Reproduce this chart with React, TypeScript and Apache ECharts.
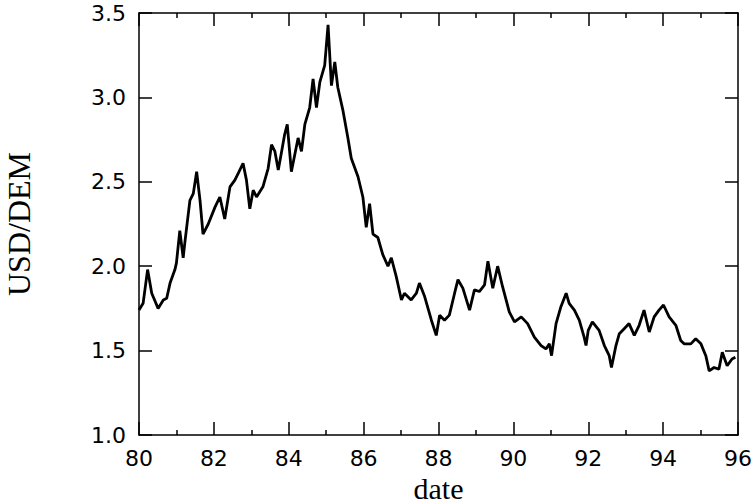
import React, { useEffect, useRef } from "react";
import * as echarts from "echarts";

const years: number[] = [
  80.0, 80.11, 80.23, 80.34, 80.51, 80.65, 80.74, 80.83, 80.96, 81.0,
  81.09, 81.18, 81.23, 81.36, 81.45, 81.54, 81.63, 81.71, 81.85, 82.03,
  82.16, 82.29, 82.43, 82.56, 82.65, 82.78, 82.87, 82.96, 83.05, 83.14,
  83.31, 83.45, 83.54, 83.63, 83.72, 83.81, 83.89, 83.96, 84.07, 84.25,
  84.34, 84.43, 84.56, 84.65, 84.74, 84.83, 84.96, 85.05, 85.14, 85.23,
  85.31, 85.45, 85.58, 85.67, 85.85, 85.98, 86.07, 86.16, 86.25, 86.38,
  86.51, 86.65, 86.74, 86.87, 87.01, 87.09, 87.27, 87.41, 87.49, 87.63,
  87.81, 87.94, 88.03, 88.16, 88.29, 88.43, 88.52, 88.65, 88.83, 88.96,
  89.09, 89.23, 89.32, 89.45, 89.58, 89.71, 89.89, 90.03, 90.21, 90.38,
  90.56, 90.74, 90.87, 90.96, 91.02, 91.14, 91.27, 91.41, 91.49, 91.63,
  91.76, 91.89, 91.94, 92.0, 92.11, 92.29, 92.43, 92.56, 92.62, 92.74,
  92.83, 92.96, 93.09, 93.23, 93.36, 93.49, 93.63, 93.76, 93.89, 94.01,
  94.16, 94.34, 94.47, 94.56, 94.74, 94.87, 95.01, 95.14, 95.23, 95.36,
  95.49, 95.58, 95.71, 95.84, 95.93,
];

const usdDem: number[] = [
  1.74, 1.78, 1.98, 1.84, 1.75, 1.8, 1.81, 1.9, 1.98, 2.02,
  2.21, 2.05, 2.15, 2.39, 2.43, 2.56, 2.39, 2.19, 2.25, 2.35,
  2.41, 2.28, 2.47, 2.51, 2.55, 2.61, 2.51, 2.34, 2.45, 2.41,
  2.47, 2.58, 2.72, 2.68, 2.57, 2.68, 2.78, 2.84, 2.56, 2.76,
  2.68, 2.84, 2.94, 3.11, 2.94, 3.09, 3.19, 3.43, 3.07, 3.21,
  3.06, 2.92, 2.76, 2.64, 2.53, 2.41, 2.23, 2.37, 2.19, 2.17,
  2.07, 2.0, 2.05, 1.94, 1.8, 1.84, 1.8, 1.84, 1.9, 1.82,
  1.68, 1.59, 1.71, 1.68, 1.71, 1.84, 1.92, 1.87, 1.74, 1.86,
  1.85, 1.89, 2.03, 1.87, 2.0, 1.88, 1.73, 1.67, 1.7, 1.66,
  1.58, 1.53, 1.51, 1.54, 1.47, 1.66, 1.76, 1.84, 1.78, 1.74,
  1.68, 1.58, 1.53, 1.62, 1.67, 1.62, 1.53, 1.47, 1.4, 1.53,
  1.6, 1.63, 1.66, 1.59, 1.65, 1.74, 1.61, 1.7, 1.74, 1.77,
  1.7, 1.65, 1.56, 1.54, 1.54, 1.57, 1.54, 1.47, 1.38, 1.4,
  1.39, 1.49, 1.41, 1.45, 1.46,
];

const xTicks: number[] = [80, 82, 84, 86, 88, 90, 92, 94, 96];
const yTicks: number[] = [1.0, 1.5, 2.0, 2.5, 3.0, 3.5];

const tickFont = "'DejaVu Sans', sans-serif";
const titleFont = "'Liberation Serif', 'Times New Roman', serif";

export default function App() {
  const ref = useRef<HTMLDivElement>(null);
  useEffect(() => {
    if (!ref.current) return;
    const chart = echarts.init(ref.current, null, { renderer: "svg" });
    const xBase = {
      type: "value" as const,
      min: xTicks[0],
      max: xTicks[xTicks.length - 1],
      interval: 2,
      axisLine: { show: true, onZero: false, lineStyle: { color: "#000", width: 1.5 } },
      axisTick: { show: true, inside: true, length: 13, lineStyle: { color: "#000", width: 1.5 } },
      minorTick: { show: true, splitNumber: 2, length: 5, lineStyle: { color: "#000", width: 1.5 } },
      splitLine: { show: false },
      minorSplitLine: { show: false },
    };
    const yBase = {
      type: "value" as const,
      min: yTicks[0],
      max: yTicks[yTicks.length - 1],
      interval: 0.5,
      axisLine: { show: true, onZero: false, lineStyle: { color: "#000", width: 1.5 } },
      axisTick: { show: true, inside: true, length: 13, lineStyle: { color: "#000", width: 1.5 } },
      splitLine: { show: false },
    };
    chart.setOption({
      animation: false,
      backgroundColor: "#fff",
      grid: {
        left: 139,
        right: 17,
        top: 13,
        bottom: 69,
        containLabel: false,
        outerBoundsMode: "none",
      },
      xAxis: [
        {
          ...xBase,
          position: "bottom",
          name: "date",
          nameLocation: "middle",
          nameGap: 34,
          nameTextStyle: { fontFamily: titleFont, fontSize: 30, color: "#000" },
          axisLabel: {
            show: true,
            margin: 12,
            fontFamily: tickFont,
            fontSize: 22,
            color: "#000",
            formatter: (v: number) => String(v),
          },
        },
        { ...xBase, position: "top", axisLabel: { show: false } },
      ],
      yAxis: [
        {
          ...yBase,
          position: "left",
          name: "USD/DEM",
          nameLocation: "middle",
          nameGap: 104,
          nameRotate: 90,
          nameTextStyle: { fontFamily: titleFont, fontSize: 32, color: "#000" },
          axisLabel: {
            show: true,
            margin: 13,
            fontFamily: tickFont,
            fontSize: 22,
            color: "#000",
            formatter: (v: number) => v.toFixed(1),
          },
        },
        { ...yBase, position: "right", axisLabel: { show: false } },
      ],
      series: [
        {
          type: "line",
          xAxisIndex: 0,
          yAxisIndex: 0,
          data: years.map((y, i) => [y, usdDem[i]]),
          showSymbol: false,
          symbol: "none",
          lineStyle: { color: "#000", width: 2.8 },
          z: 1,
        },
      ],
    });
    return () => chart.dispose();
  }, []);
  return (
    <div
      ref={ref}
      style={{ position: "fixed", left: 0, top: 0, width: 755, height: 504 }}
    />
  );
}
